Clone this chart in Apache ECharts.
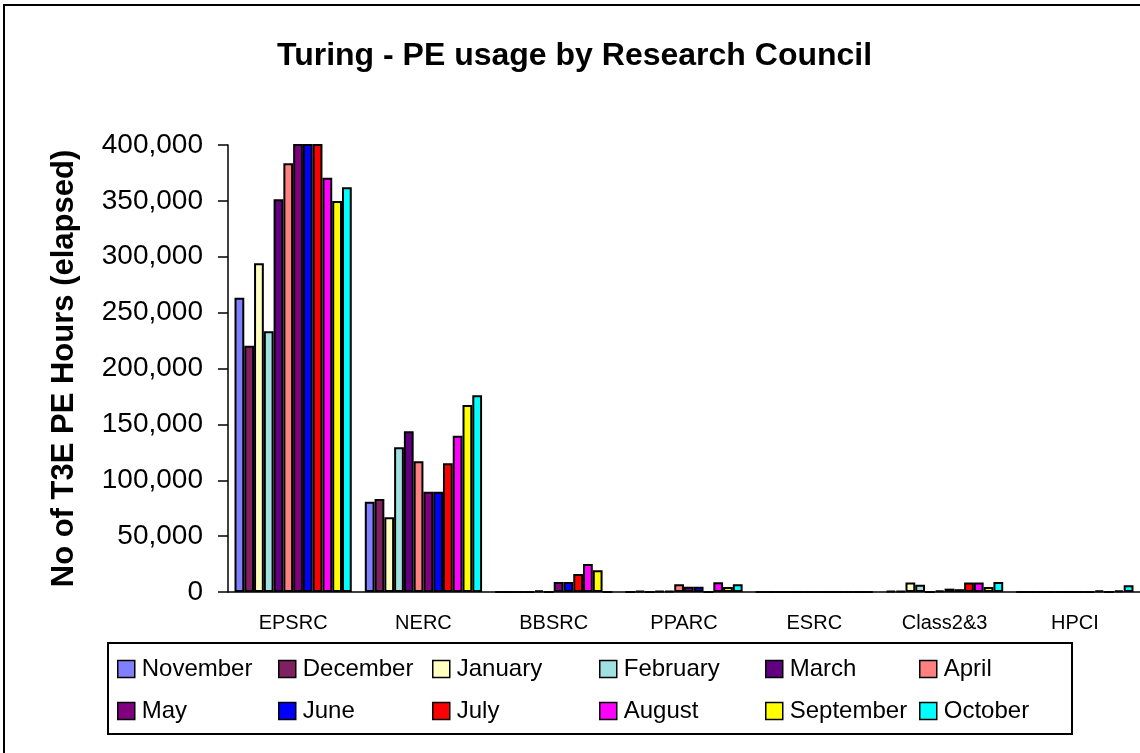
<!DOCTYPE html>
<html>
<head>
<meta charset="utf-8">
<script src="https://cdn.jsdelivr.net/npm/echarts@6/dist/echarts.min.js"></script>
<style>
  html, body { margin: 0; padding: 0; background: #fff; overflow: hidden; }
  #chart { width: 1140px; height: 753px; }
</style>
</head>
<body>
<div id="chart"></div>
<script>
// research councils on the x axis
const councils = ['EPSRC', 'NERC', 'BBSRC', 'PPARC', 'ESRC', 'Class2&3', 'HPCI']
const months = ['November', 'December', 'January', 'February', 'March', 'April',
  'May', 'June', 'July', 'August', 'September', 'October']
const monthColors = ['#8080FF', '#802060', '#FFFFC0', '#A0E0E0', '#600080', '#FF8080',
  '#800080', '#0000FF', '#FF0000', '#FF00FF', '#FFFF00', '#00FFFF']

// PE hours per month, one entry per council
const november  = [263400, 80800, 0, 0, 0, 1000, 0]
const december  = [220400, 83200, 0, 1000, 0, 1000, 0]
const january   = [294200, 66900, 0, 0, 0, 8500, 0]
const february  = [233300, 129500, 0, 1000, 0, 6500, 0]
const march     = [351500, 143800, 1500, 1000, 0, 0, 0]
const april     = [383700, 117000, 0, 6900, 0, 1500, 0]
const may       = [415000, 89800, 9000, 4700, 0, 3000, 0]
const june      = [425000, 89800, 9000, 4700, 0, 2500, 0]
const july      = [410000, 115200, 16000, 0, 0, 8500, 1500]
const august    = [370800, 139900, 25000, 8700, 0, 8500, 0]
const september = [349900, 167400, 19500, 4500, 0, 4500, 1500]
const october   = [362200, 176000, 0, 6900, 0, 9000, 6000]

const monthValues = [november, december, january, february, march, april,
  may, june, july, august, september, october]

const yTicks = { min: 0, max: 400000, interval: 50000 }

const font = 'Liberation Sans, Arial, sans-serif'
const chart = echarts.init(document.getElementById('chart'))

// legend laid out as 6 columns x 2 rows like the Excel box
const legendCols = [117, 278, 432, 599, 765, 919]
const legends = legendCols.map((x, i) => ({
  orient: 'vertical',
  left: x,
  top: 657,
  padding: 0,
  data: [months[i], months[i + 6]],
  icon: 'rect',
  itemWidth: 17,
  itemHeight: 17,
  itemGap: 18,
  itemStyle: { borderColor: '#000', borderWidth: 1.5 },
  textStyle: { fontFamily: font, fontSize: 24, color: '#000', lineHeight: 24, padding: [0, 0, 0, 2] }
}))

const series = months.map((m, i) => ({
  name: m,
  type: 'bar',
  data: monthValues[i],
  barGap: '0%',
  barCategoryGap: '10%',
  clip: true,
  itemStyle: { color: monthColors[i], borderColor: '#000', borderWidth: 2 }
}))

chart.setOption({
  animation: false,
  backgroundColor: '#fff',
  title: {
    text: 'Turing - PE usage by Research Council',
    left: 272,
    top: 35,
    textStyle: { fontFamily: font, fontSize: 32, fontWeight: 'bold', color: '#000' }
  },
  legend: legends,
  grid: { left: 228, right: 0, top: 145, bottom: 161 },
  xAxis: {
    type: 'category',
    data: councils,
    axisLine: { lineStyle: { color: '#000', width: 1.5 } },
    axisTick: { length: 6, lineStyle: { color: '#000', width: 1.5 } },
    axisLabel: { fontFamily: font, fontSize: 20, color: '#000', margin: 21 }
  },
  yAxis: {
    type: 'value',
    min: yTicks.min,
    max: yTicks.max,
    interval: yTicks.interval,
    name: 'No of T3E PE Hours (elapsed)',
    nameLocation: 'middle',
    nameRotate: 90,
    nameGap: 148,
    nameTextStyle: { fontFamily: font, fontSize: 31, fontWeight: 'bold', color: '#000' },
    axisLine: { show: true, lineStyle: { color: '#000', width: 1.5 } },
    axisTick: { show: true, length: 10, lineStyle: { color: '#000', width: 1.5 } },
    splitLine: { show: false },
    axisLabel: {
      fontFamily: font, fontSize: 28, color: '#000', margin: 25,
      formatter: v => v.toLocaleString('en-US')
    }
  },
  graphic: [
    {
      type: 'polyline',
      shape: { points: [[4, 760], [4, 5], [1150, 5]] },
      style: { fill: 'none', stroke: '#000', lineWidth: 2 },
      silent: true
    },
    {
      type: 'rect',
      shape: { x: 108, y: 643, width: 964, height: 91 },
      style: { fill: 'none', stroke: '#000', lineWidth: 2 },
      silent: true,
      z: -1
    }
  ],
  series
})
</script>
</body>
</html>
